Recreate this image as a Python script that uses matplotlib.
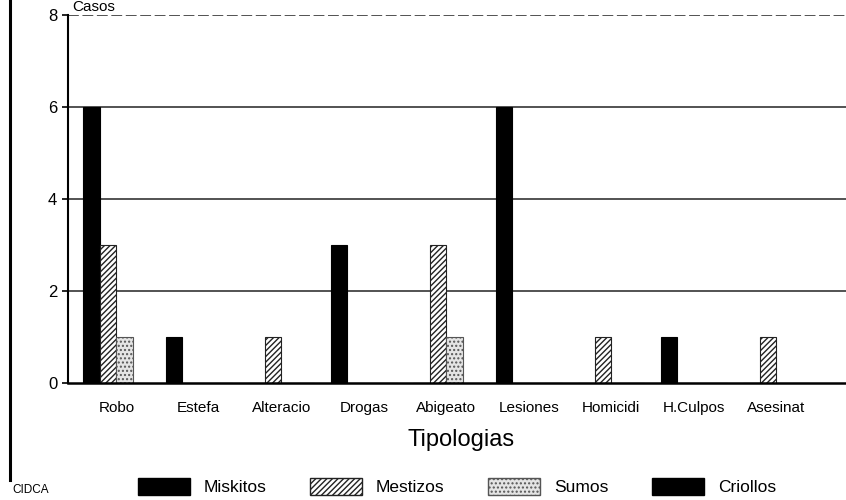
import matplotlib.pyplot as plt
import numpy as np
from matplotlib.patches import Patch
from matplotlib.lines import Line2D

plt.rcParams['font.family'] = ['Liberation Sans', 'DejaVu Sans']
plt.rcParams['hatch.linewidth'] = 1.0

categories = ['Robo', 'Estefa', 'Alteracio', 'Drogas', 'Abigeato',
              'Lesiones', 'Homicidi', 'H.Culpos', 'Asesinat']
miskitos = [6, 1, 0, 3, 0, 6, 0, 1, 0]
mestizos = [3, 0, 1, 0, 3, 0, 1, 0, 1]
sumos = [1, 0, 0, 0, 1, 0, 0, 0, 0]
criollos = [0, 0, 0, 0, 0, 0, 0, 0, 0]
series_names = ['Miskitos', 'Mestizos', 'Sumos', 'Criollos']


def plot_chart():
    fig = plt.figure(figsize=(8.46, 5), dpi=100)
    ax = fig.add_axes([0.080, 0.234, 0.93, 0.736])

    x = np.arange(len(categories))
    w = 0.2
    styles = [
        dict(color='black', edgecolor='black'),
        dict(color='white', edgecolor='#222222', hatch='//////'),
        dict(color='#e4e4e4', edgecolor='#555555', hatch='....'),
        dict(color='black', edgecolor='black'),
    ]
    data = [miskitos, mestizos, sumos, criollos]

    # grid lines behind bars
    for yv in [2, 4, 6]:
        ax.axhline(yv, color='#444444', lw=1.3, zorder=0)
    ax.axhline(8, color='#444444', lw=1.3, ls=(0, (6, 2)), zorder=0)

    for i, (vals, st) in enumerate(zip(data, styles)):
        ax.bar(x - 0.3 + i * w, vals, w, align='center', linewidth=0.8,
               zorder=2, **st)

    ax.set_xlim(-0.59, 8.95)
    ax.set_ylim(0, 8)
    ax.set_yticks([0, 2, 4, 6, 8])
    ax.set_xticks(x)
    ax.set_xticklabels(categories, fontsize=11)
    ax.tick_params(axis='y', labelsize=12, length=4, width=1.2)
    ax.tick_params(axis='x', length=0, pad=13)
    for s in ['top', 'right']:
        ax.spines[s].set_visible(False)
    ax.spines['left'].set_linewidth(1.5)
    ax.spines['bottom'].set_linewidth(1.8)

    ax.set_xlabel('Tipologias', fontsize=17, labelpad=10)
    fig.text(0.085, 0.986, 'Casos', fontsize=11, va='center')

    # scan frame line on the left
    fig.add_artist(Line2D([0.012, 0.012], [0.04, 1.0], color='black', lw=2.2))
    fig.text(0.015, 0.02, 'CIDCA', fontsize=8.5, va='center')

    handles = [
        Patch(facecolor='black', edgecolor='black'),
        Patch(facecolor='white', edgecolor='#222222', hatch='//////'),
        Patch(facecolor='#e4e4e4', edgecolor='#555555', hatch='....'),
        Patch(facecolor='black', edgecolor='black'),
    ]
    fig.legend(handles, series_names, loc='center', ncol=4,
               bbox_to_anchor=(0.54, 0.027), frameon=False, fontsize=12.5,
               handlelength=3.0, handleheight=1.2, columnspacing=2.5,
               handletextpad=0.8)

    fig.savefig('out.png', dpi=100)


def main():
    plot_chart()


if __name__ == "__main__":
    main()
